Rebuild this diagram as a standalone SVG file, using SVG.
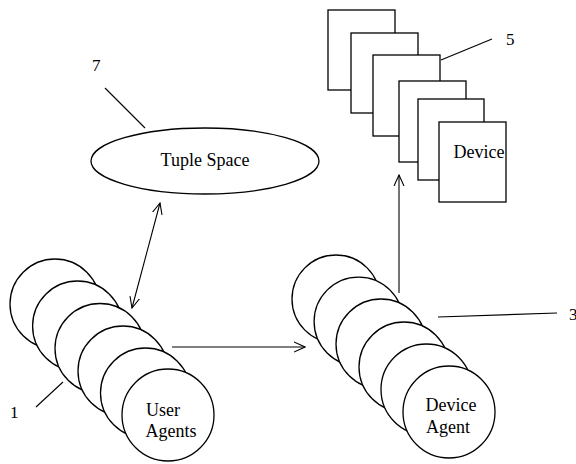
<svg xmlns="http://www.w3.org/2000/svg" width="576" height="464" viewBox="0 0 576 464">
<defs>
<marker id="arr" viewBox="0 0 12 12" refX="11" refY="6" markerWidth="12" markerHeight="12" markerUnits="userSpaceOnUse" orient="auto-start-reverse">
<path d="M0,1 L11,6 L0,11" fill="none" stroke="#000" stroke-width="1.1"/>
</marker>
</defs>
<style>
.s{fill:#fff;stroke:#000;stroke-width:1.3}
.l{fill:none;stroke:#000;stroke-width:1.1}
.t{font-size:18px;text-anchor:middle}
.n{font-size:17px}
</style>
<rect width="576" height="464" fill="#fff"/>
<g font-family="'Liberation Serif', 'DejaVu Serif', serif" fill="#000">
<g id="devices">
<rect class="s" x="328" y="10" width="67" height="80"/>
<rect class="s" x="351" y="33" width="67" height="80"/>
<rect class="s" x="373" y="55" width="67" height="81"/>
<rect class="s" x="399" y="81" width="67" height="81"/>
<rect class="s" x="418" y="99" width="66" height="81"/>
<rect class="s" x="439" y="122" width="67" height="80"/>
<text class="t" x="479" y="158">Device</text>
</g>
<g id="tuple-space">
<ellipse class="s" cx="205" cy="161" rx="114" ry="33"/>
<text class="t" x="205" y="166">Tuple Space</text>
</g>
<g id="user-agents">
<circle class="s" cx="55" cy="304" r="45"/>
<circle class="s" cx="77.6" cy="326" r="45"/>
<circle class="s" cx="100" cy="348.5" r="45"/>
<circle class="s" cx="123" cy="371" r="45"/>
<circle class="s" cx="145.5" cy="393" r="45"/>
<circle class="s" cx="168" cy="415" r="46"/>
<text class="t" x="163" y="416">User</text>
<text class="t" x="171" y="437">Agents</text>
</g>
<g id="device-agents">
<circle class="s" cx="336" cy="299" r="44"/>
<circle class="s" cx="358.6" cy="321.6" r="44.5"/>
<circle class="s" cx="381" cy="344" r="45"/>
<circle class="s" cx="404" cy="367" r="45"/>
<circle class="s" cx="426.5" cy="389.5" r="45.5"/>
<circle class="s" cx="449" cy="412" r="46"/>
<text class="t" x="451" y="411">Device</text>
<text class="t" x="448" y="433">Agent</text>
</g>
<g id="connectors">
<line class="l" x1="160" y1="203" x2="132" y2="308" marker-start="url(#arr)" marker-end="url(#arr)"/>
<line class="l" x1="172" y1="347" x2="305" y2="347" marker-end="url(#arr)"/>
<line class="l" x1="399" y1="293" x2="399" y2="175" marker-end="url(#arr)"/>
<line class="l" x1="105" y1="88" x2="145" y2="128"/>
<line class="l" x1="441" y1="60" x2="492" y2="39"/>
<line class="l" x1="438" y1="317" x2="557" y2="313"/>
<line class="l" x1="36" y1="407" x2="63" y2="382"/>
</g>
<g id="labels">
<text class="n" x="92" y="71">7</text>
<text class="n" x="506" y="45">5</text>
<text class="n" x="569" y="320">3</text>
<text class="n" x="10" y="418">1</text>
</g>
</g>
</svg>
